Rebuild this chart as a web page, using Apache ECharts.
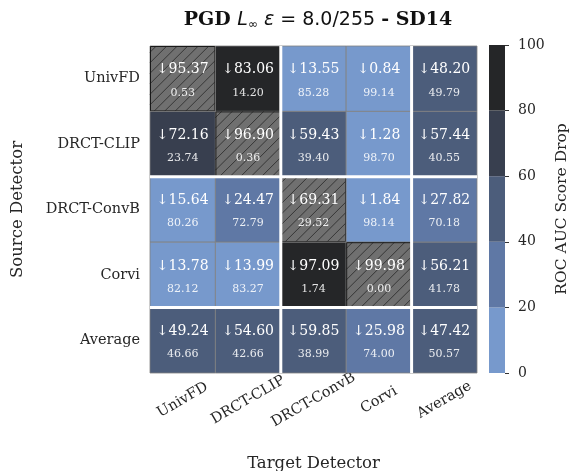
<!DOCTYPE html>
<html>
<head>
<meta charset="utf-8">
<style>
  html, body { margin: 0; padding: 0; background: #ffffff; }
  #chart { width: 570px; height: 471px; }
</style>
<script src="https://cdn.jsdelivr.net/npm/echarts@6/dist/echarts.min.js"></script>
</head>
<body>
<div id="chart"></div>
<script>
// Detectors (columns = target, rows = source), plus the averages
const targets = ['UnivFD', 'DRCT-CLIP', 'DRCT-ConvB', 'Corvi', 'Average'];
const sources = ['UnivFD', 'DRCT-CLIP', 'DRCT-ConvB', 'Corvi', 'Average'];

// ROC AUC score drop, one row per source detector
const dropUnivFD   = [95.37, 83.06, 13.55, 0.84, 48.20];
const dropDrctClip = [72.16, 96.90, 59.43, 1.28, 57.44];
const dropDrctConv = [15.64, 24.47, 69.31, 1.84, 27.82];
const dropCorvi    = [13.78, 13.99, 97.09, 99.98, 56.21];
const dropAverage  = [49.24, 54.60, 59.85, 25.98, 47.42];

// Remaining ROC AUC after the attack, one row per source detector
const aucUnivFD   = [0.53, 14.20, 85.28, 99.14, 49.79];
const aucDrctClip = [23.74, 0.36, 39.40, 98.70, 40.55];
const aucDrctConv = [80.26, 72.79, 29.52, 98.14, 70.18];
const aucCorvi    = [82.12, 83.27, 1.74, 0.00, 41.78];
const aucAverage  = [46.66, 42.66, 38.99, 74.00, 50.57];

// White-box cells (source == target) are hatched
const hatchedCells = [[0, 0], [1, 1], [2, 2], [3, 3]];

// Discrete colour scale
const bandEdges = [0, 20, 40, 60, 80, 100];
const bandColors = ['#7799cc', '#5f78a5', '#4c5d7b', '#383f4f', '#252628'];

// Column / row indices after which a white divider is drawn
const dividersAfter = [1, 3];

const dropRows = [dropUnivFD, dropDrctClip, dropDrctConv, dropCorvi, dropAverage];
const aucRows = [aucUnivFD, aucDrctClip, aucDrctConv, aucCorvi, aucAverage];

function isHatched(xi, yi) {
  return hatchedCells.some(function (c) { return c[0] === yi && c[1] === xi; });
}

const cellData = [];
for (let yi = 0; yi < sources.length; yi++) {
  for (let xi = 0; xi < targets.length; xi++) {
    cellData.push([xi, yi, dropRows[yi][xi], aucRows[yi][xi], isHatched(xi, yi) ? 1 : 0]);
  }
}

function colorFor(v) {
  for (let i = 0; i < bandColors.length; i++) {
    if (v < bandEdges[i + 1]) return bandColors[i];
  }
  return bandColors[bandColors.length - 1];
}

const SERIF = '"DejaVu Serif", serif';
const SANS = '"DejaVu Sans", sans-serif';
const TEXT = '#262626';

function renderCell(params, api) {
  const xi = api.value(0), yi = api.value(1);
  const v = api.value(2), a = api.value(3), h = api.value(4);
  const c = api.coord([xi, yi]);
  const s = api.size([1, 1]);
  const x0 = c[0] - s[0] / 2, y0 = c[1] - s[1] / 2, w = s[0], hh = s[1];
  const children = [];
  children.push({
    type: 'rect',
    shape: { x: x0, y: y0, width: w, height: hh },
    style: { fill: h ? '#707070' : colorFor(v), stroke: '#808080', lineWidth: 0.8 }
  });
  if (h) {
    const d = 10.5;
    for (let k = d * 0.6; k < w + hh; k += d) {
      const xa = Math.max(0, k - hh), xb = Math.min(w, k);
      children.push({
        type: 'line',
        shape: { x1: x0 + xa, y1: y0 + k - xa, x2: x0 + xb, y2: y0 + k - xb },
        style: { stroke: '#2f2f2f', lineWidth: 0.9 }
      });
    }
    children.push({
      type: 'rect',
      shape: { x: x0 + 0.5, y: y0 + 0.5, width: w - 1, height: hh - 1 },
      style: { fill: null, stroke: '#1a1a1a', lineWidth: 1 }
    });
  }
  children.push({
    type: 'text',
    style: {
      x: c[0], y: c[1] - 9, text: '\u2193' + v.toFixed(2),
      fill: '#ffffff', font: '14px ' + SERIF, align: 'center', verticalAlign: 'middle'
    }
  });
  children.push({
    type: 'text',
    style: {
      x: c[0], y: c[1] + 14, text: a.toFixed(2),
      fill: 'rgba(255,255,255,0.88)', font: '11px ' + SERIF, align: 'center', verticalAlign: 'middle'
    }
  });
  return { type: 'group', children: children };
}

function renderDividers(params, api) {
  const k = api.value(0);
  const n = targets.length;
  const a = api.coord([k, k]);
  const b = api.coord([k + 1, k + 1]);
  const first = api.coord([0, 0]);
  const last = api.coord([n - 1, n - 1]);
  const s = api.size([1, 1]);
  const xm = (a[0] + b[0]) / 2, ym = (a[1] + b[1]) / 2;
  const left = first[0] - s[0] / 2, right = last[0] + s[0] / 2;
  const top = first[1] - s[1] / 2, bottom = last[1] + s[1] / 2;
  return {
    type: 'group',
    children: [
      { type: 'line', shape: { x1: xm, y1: top, x2: xm, y2: bottom }, style: { stroke: '#ffffff', lineWidth: 3 } },
      { type: 'line', shape: { x1: left, y1: ym, x2: right, y2: ym }, style: { stroke: '#ffffff', lineWidth: 3 } }
    ]
  };
}

const bandData = bandColors.map(function (col, i) { return [0, bandEdges[i], bandEdges[i + 1], i]; });

function renderBand(params, api) {
  const lo = api.coord([0, api.value(1)]);
  const hi = api.coord([0, api.value(2)]);
  const s = api.size([1, 0]);
  return {
    type: 'rect',
    shape: { x: lo[0] - s[0] / 2, y: hi[1], width: s[0], height: lo[1] - hi[1] },
    style: { fill: bandColors[api.value(3)] }
  };
}

const chart = echarts.init(document.getElementById('chart'), null, { renderer: 'canvas' });

chart.setOption({
  backgroundColor: '#ffffff',
  animation: false,
  title: {
    left: 313,
    textAlign: 'center',
    top: 5,
    text: '{b|PGD }{i|L}{s|\u221e}{m| }{i|\u03b5}{m| = 8.0/255 }{b|- SD14}',
    textStyle: {
      fontWeight: 'normal',
      rich: {
        b: { fontFamily: SERIF, fontWeight: 'bold', fontSize: 19, color: '#111' },
        i: { fontFamily: SANS, fontStyle: 'italic', fontWeight: 'normal', fontSize: 19, color: '#111' },
        m: { fontFamily: SANS, fontWeight: 'normal', fontSize: 19, color: '#111' },
        s: { fontFamily: SANS, fontWeight: 'normal', fontSize: 12, color: '#111', verticalAlign: 'bottom', padding: [9, 0, 0, 0] }
      }
    }
  },
  grid: [
    { left: 150, top: 46, width: 327, height: 327, outerBoundsMode: 'none', containLabel: false },
    { left: 489, top: 45, width: 16, height: 328, outerBoundsMode: 'none', containLabel: false }
  ],
  xAxis: [
    {
      type: 'category', gridIndex: 0, data: targets,
      axisLine: { show: false }, axisTick: { show: false }, splitLine: { show: false },
      axisLabel: {
        rotate: 30, align: 'center', verticalAlign: 'middle', margin: 27,
        fontFamily: SERIF, fontSize: 14.5, color: TEXT, interval: 0
      },
      name: 'Target Detector', nameLocation: 'middle', nameGap: 82,
      nameTextStyle: { fontFamily: SERIF, fontSize: 16.5, color: TEXT }
    },
    {
      type: 'category', gridIndex: 1, data: [''],
      axisLine: { show: false }, axisTick: { show: false }, axisLabel: { show: false }
    }
  ],
  yAxis: [
    {
      type: 'category', gridIndex: 0, data: sources, inverse: true,
      axisLine: { show: false }, axisTick: { show: false }, splitLine: { show: false },
      axisLabel: { margin: 10, fontFamily: SERIF, fontSize: 14.5, color: TEXT },
      name: 'Source Detector', nameLocation: 'middle', nameGap: 124, nameRotate: 90,
      nameTextStyle: { fontFamily: SERIF, fontSize: 16.5, color: TEXT }
    },
    {
      type: 'value', gridIndex: 1, position: 'right', min: 0, max: 100, interval: 20,
      axisLine: { show: false }, splitLine: { show: false },
      axisTick: { show: true, length: 4, lineStyle: { color: '#333', width: 1 } },
      axisLabel: { margin: 13, fontFamily: SERIF, fontSize: 14, color: TEXT },
      name: 'ROC AUC Score Drop', nameLocation: 'middle', nameGap: 49, nameRotate: 90,
      nameTextStyle: { fontFamily: SERIF, fontSize: 15.5, color: TEXT }
    }
  ],
  series: [
    {
      type: 'custom', xAxisIndex: 0, yAxisIndex: 0,
      data: cellData, renderItem: renderCell, clip: false, z: 2
    },
    {
      type: 'custom', xAxisIndex: 0, yAxisIndex: 0,
      data: dividersAfter.map(function (k) { return [k]; }),
      encode: { x: 0, y: 0 },
      renderItem: renderDividers, clip: false, z: 3, silent: true
    },
    {
      type: 'custom', xAxisIndex: 1, yAxisIndex: 1,
      data: bandData, encode: { x: 0, y: [1, 2] },
      renderItem: renderBand, clip: false
    }
  ]
});
</script>
</body>
</html>
